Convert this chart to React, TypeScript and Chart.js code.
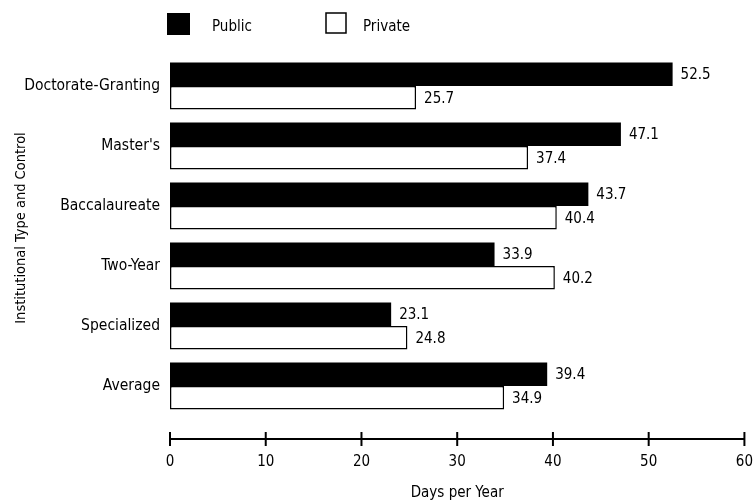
import React, { useEffect, useRef } from "react";
import { Chart, registerables } from "chart.js";

Chart.register(...registerables);

const categories = ["Doctorate-Granting", "Master's", "Baccalaureate", "Two-Year", "Specialized", "Average"];
const publicValues = [52.5, 47.1, 43.7, 33.9, 23.1, 39.4];
const privateValues = [25.7, 37.4, 40.4, 40.2, 24.8, 34.9];
const seriesNames = ["Public", "Private"];
const xTicks = [0, 10, 20, 30, 40, 50, 60];
const xTitle = "Days per Year";
const yTitle = "Institutional Type and Control";

const FONT_FAMILY = "'DejaVu Sans Condensed', 'Liberation Sans Narrow', sans-serif";
const FONT = { family: FONT_FAMILY, size: 15, weight: "normal" as const };
const CAT_FONT = { family: FONT_FAMILY, size: 15.5, weight: "normal" as const };
const CTX_FONT = `15px ${FONT_FAMILY}`;
const TITLE_FONT = `14.5px ${FONT_FAMILY}`;

const valueLabelPlugin = {
  id: "valueLabels",
  afterDatasetsDraw(chart: any) {
    const ctx = chart.ctx;
    ctx.save();
    ctx.font = CTX_FONT;
    ctx.fillStyle = "#000";
    ctx.textAlign = "left";
    ctx.textBaseline = "middle";
    chart.data.datasets.forEach((ds: any, di: number) => {
      const meta = chart.getDatasetMeta(di);
      meta.data.forEach((el: any, i: number) => {
        ctx.fillText(ds.data[i].toFixed(1), el.x + 8, el.y + 1);
      });
    });
    ctx.restore();
  },
};

const axisPlugin = {
  id: "customAxis",
  afterDraw(chart: any) {
    const ctx = chart.ctx;
    const xs = chart.scales.x;
    const y = chart.chartArea.bottom + 23;
    ctx.save();
    ctx.strokeStyle = "#000";
    ctx.lineWidth = 2;
    ctx.beginPath();
    ctx.moveTo(xs.getPixelForValue(xTicks[0]), y);
    ctx.lineTo(xs.getPixelForValue(xTicks[xTicks.length - 1]), y);
    ctx.stroke();
    xTicks.forEach((t) => {
      const px = xs.getPixelForValue(t);
      ctx.beginPath();
      ctx.moveTo(px, y - 7);
      ctx.lineTo(px, y + 7);
      ctx.stroke();
    });
    // y-axis title
    ctx.font = TITLE_FONT;
    ctx.fillStyle = "#000";
    ctx.textAlign = "center";
    ctx.textBaseline = "middle";
    ctx.translate(21, (chart.chartArea.top + chart.chartArea.bottom) / 2 - 8);
    ctx.rotate(-Math.PI / 2);
    ctx.fillText(yTitle, 0, 0);
    ctx.restore();
  },
};

const legendPlugin = {
  id: "customLegend",
  afterDraw(chart: any) {
    const ctx = chart.ctx;
    const ds = chart.data.datasets;
    ctx.save();
    ctx.font = CTX_FONT;
    ctx.textAlign = "left";
    ctx.textBaseline = "middle";
    ctx.fillStyle = ds[0].backgroundColor;
    ctx.fillRect(167, 13, 23, 22);
    ctx.fillStyle = "#000";
    ctx.fillText(ds[0].label, 212, 27);
    ctx.fillStyle = ds[1].backgroundColor;
    ctx.fillRect(326, 13, 20, 20);
    ctx.strokeStyle = ds[1].borderColor;
    ctx.lineWidth = 1.5;
    ctx.strokeRect(326, 13, 20, 20);
    ctx.fillStyle = "#000";
    ctx.fillText(ds[1].label, 363, 27);
    ctx.restore();
  },
};

export default function App() {
  const ref = useRef<HTMLCanvasElement>(null);
  useEffect(() => {
    if (!ref.current) return;
    const chart = new Chart(ref.current, {
      type: "bar",
      data: {
        labels: categories,
        datasets: [
          {
            label: seriesNames[0],
            data: publicValues,
            backgroundColor: "#000000",
            borderColor: "#000000",
            borderWidth: 0,
            categoryPercentage: 0.78,
            barPercentage: 1,
          },
          {
            label: seriesNames[1],
            data: privateValues,
            backgroundColor: "#ffffff",
            borderColor: "#000000",
            borderWidth: 1.5,
            borderSkipped: false,
            categoryPercentage: 0.78,
            barPercentage: 1,
          },
        ],
      },
      options: {
        indexAxis: "y",
        responsive: false,
        animation: false,
        layout: { padding: { top: 56, right: 9, bottom: 0, left: 0 } },
        plugins: {
          legend: { display: false },
          tooltip: { enabled: false },
        },
        scales: {
          x: {
            type: "linear",
            min: 0,
            max: 60,
            grid: { display: false, drawTicks: true, tickLength: 35 },
            border: { display: false },
            ticks: { stepSize: 10, padding: 2, color: "#000", font: FONT },
            title: {
              display: true,
              text: xTitle,
              color: "#000",
              font: FONT,
              padding: { top: 0, bottom: 0 },
            },
            afterFit: (scale: any) => {
              scale.height = 86;
            },
          },
          y: {
            type: "category",
            grid: { display: false, drawTicks: false },
            border: { display: false },
            ticks: { padding: 10, color: "#000", font: CAT_FONT },
            title: { display: false },
            afterFit: (scale: any) => {
              scale.width = 170;
            },
          },
        },
      },
      plugins: [valueLabelPlugin, axisPlugin, legendPlugin],
    } as any);
    return () => chart.destroy();
  }, []);
  return (
    <div style={{ position: "absolute", left: 0, top: 0, width: 755, height: 502, background: "#fff" }}>
      <canvas ref={ref} width={755} height={502} style={{ display: "block" }} />
    </div>
  );
}
